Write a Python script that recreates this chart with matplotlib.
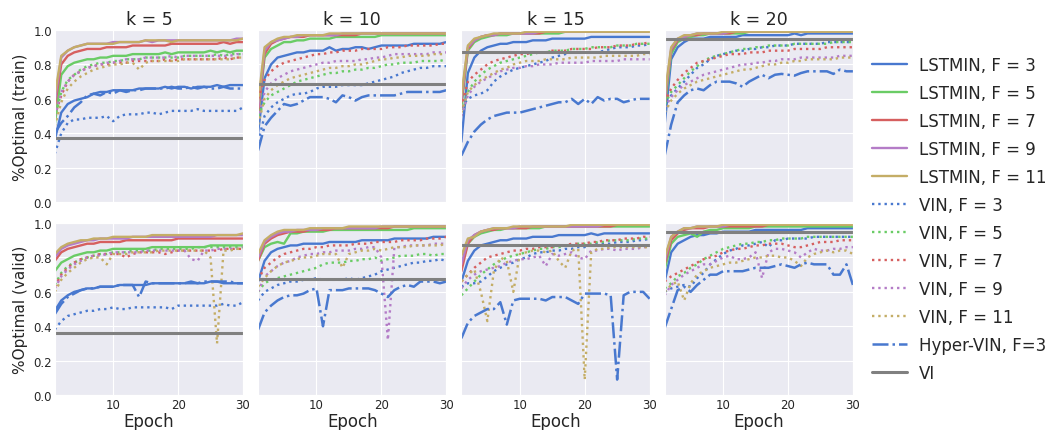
import matplotlib
matplotlib.use("Agg")
import matplotlib.pyplot as plt
import seaborn as sns
import numpy as np

epochs = list(range(1, 31))
ks = [5, 10, 15, 20]
labels = ["LSTMIN, F = 3", "LSTMIN, F = 5", "LSTMIN, F = 7", "LSTMIN, F = 9", "LSTMIN, F = 11",
          "VIN, F = 3", "VIN, F = 5", "VIN, F = 7", "VIN, F = 9", "VIN, F = 11",
          "Hyper-VIN, F=3", "VI"]

# ---------------- train, k = 5 ----------------
tr5_L3 = [0.36,0.52,0.57,0.59,0.60,0.61,0.63,0.64,0.64,0.65,0.65,0.65,0.65,0.66,0.66,0.66,0.66,0.67,0.66,0.67,0.67,0.66,0.67,0.67,0.67,0.68,0.67,0.68,0.68,0.68]
tr5_L5 = [0.45,0.74,0.79,0.81,0.82,0.83,0.83,0.84,0.84,0.85,0.85,0.85,0.86,0.86,0.86,0.86,0.86,0.87,0.86,0.87,0.87,0.87,0.87,0.87,0.88,0.87,0.88,0.87,0.88,0.88]
tr5_L7 = [0.55,0.80,0.85,0.87,0.88,0.89,0.89,0.89,0.90,0.90,0.90,0.90,0.91,0.91,0.91,0.91,0.91,0.91,0.92,0.92,0.92,0.92,0.92,0.92,0.92,0.92,0.93,0.92,0.93,0.93]
tr5_L9 = [0.58,0.84,0.88,0.90,0.91,0.92,0.92,0.92,0.92,0.93,0.93,0.93,0.93,0.93,0.94,0.93,0.94,0.94,0.94,0.94,0.94,0.94,0.94,0.94,0.94,0.94,0.94,0.94,0.95,0.95]
tr5_L11 = [0.62,0.85,0.88,0.90,0.91,0.92,0.92,0.92,0.92,0.92,0.93,0.93,0.93,0.93,0.94,0.94,0.94,0.94,0.93,0.94,0.94,0.94,0.94,0.94,0.94,0.94,0.94,0.94,0.94,0.95]
tr5_V3 = [0.28,0.40,0.46,0.48,0.48,0.49,0.49,0.49,0.50,0.47,0.50,0.51,0.51,0.51,0.52,0.52,0.51,0.52,0.53,0.53,0.53,0.53,0.54,0.53,0.53,0.53,0.53,0.53,0.53,0.55]
tr5_V5 = [0.48,0.64,0.71,0.74,0.77,0.79,0.80,0.81,0.81,0.82,0.82,0.83,0.83,0.83,0.84,0.84,0.84,0.84,0.84,0.84,0.85,0.85,0.85,0.85,0.85,0.86,0.85,0.86,0.86,0.86]
tr5_V7 = [0.50,0.62,0.70,0.74,0.76,0.78,0.79,0.80,0.80,0.81,0.81,0.81,0.82,0.82,0.82,0.82,0.82,0.83,0.82,0.83,0.83,0.83,0.83,0.83,0.83,0.83,0.84,0.83,0.84,0.84]
tr5_V9 = [0.50,0.64,0.70,0.74,0.76,0.78,0.79,0.80,0.81,0.81,0.82,0.83,0.83,0.83,0.84,0.84,0.84,0.84,0.85,0.84,0.85,0.85,0.85,0.85,0.85,0.85,0.85,0.85,0.86,0.86]
tr5_V11 = [0.44,0.58,0.66,0.70,0.73,0.75,0.77,0.78,0.79,0.80,0.80,0.81,0.81,0.77,0.81,0.82,0.82,0.82,0.82,0.82,0.83,0.83,0.83,0.83,0.83,0.83,0.83,0.83,0.84,0.84]
tr5_H3 = [0.40,0.46,0.50,0.55,0.58,0.62,0.63,0.62,0.64,0.63,0.65,0.64,0.65,0.65,0.66,0.66,0.66,0.66,0.67,0.66,0.66,0.67,0.66,0.67,0.66,0.66,0.67,0.66,0.66,0.66]
tr5_VI = 0.37

# ---------------- train, k = 10 ----------------
tr10_L3 = [0.40,0.72,0.80,0.84,0.85,0.86,0.87,0.87,0.88,0.88,0.88,0.90,0.88,0.89,0.89,0.90,0.90,0.89,0.90,0.91,0.91,0.91,0.91,0.91,0.92,0.92,0.92,0.92,0.92,0.93]
tr10_L5 = [0.50,0.84,0.89,0.91,0.93,0.93,0.94,0.94,0.95,0.95,0.95,0.95,0.96,0.96,0.96,0.96,0.96,0.96,0.96,0.97,0.97,0.97,0.97,0.97,0.97,0.97,0.97,0.97,0.97,0.97]
tr10_L7 = [0.52,0.86,0.92,0.94,0.95,0.96,0.96,0.96,0.97,0.97,0.97,0.97,0.97,0.97,0.97,0.97,0.98,0.98,0.98,0.98,0.98,0.98,0.98,0.98,0.98,0.98,0.98,0.98,0.98,0.98]
tr10_L9 = [0.55,0.88,0.93,0.94,0.95,0.96,0.96,0.97,0.97,0.97,0.97,0.97,0.97,0.98,0.98,0.98,0.98,0.98,0.98,0.98,0.98,0.98,0.98,0.98,0.98,0.98,0.98,0.98,0.98,0.98]
tr10_L11 = [0.58,0.90,0.93,0.95,0.96,0.96,0.97,0.97,0.97,0.97,0.97,0.98,0.98,0.98,0.98,0.98,0.98,0.98,0.98,0.98,0.98,0.98,0.98,0.98,0.98,0.98,0.98,0.98,0.98,0.98]
tr10_V3 = [0.35,0.50,0.55,0.58,0.60,0.62,0.63,0.63,0.64,0.66,0.67,0.67,0.67,0.68,0.68,0.68,0.68,0.69,0.70,0.71,0.72,0.73,0.75,0.76,0.77,0.78,0.78,0.79,0.79,0.79]
tr10_V5 = [0.50,0.58,0.62,0.64,0.66,0.68,0.70,0.71,0.72,0.73,0.74,0.75,0.75,0.76,0.76,0.77,0.77,0.78,0.78,0.79,0.80,0.80,0.81,0.81,0.81,0.82,0.82,0.82,0.82,0.83]
tr10_V7 = [0.60,0.71,0.76,0.79,0.81,0.82,0.83,0.84,0.85,0.86,0.86,0.87,0.87,0.88,0.88,0.88,0.89,0.89,0.89,0.89,0.90,0.90,0.90,0.91,0.91,0.91,0.91,0.91,0.92,0.92]
tr10_V9 = [0.48,0.64,0.69,0.72,0.74,0.76,0.77,0.78,0.79,0.80,0.81,0.81,0.82,0.82,0.82,0.82,0.83,0.83,0.84,0.84,0.85,0.86,0.86,0.86,0.86,0.86,0.86,0.87,0.87,0.87]
tr10_V11 = [0.45,0.60,0.65,0.68,0.70,0.72,0.73,0.74,0.75,0.76,0.77,0.78,0.78,0.79,0.79,0.80,0.80,0.81,0.82,0.83,0.83,0.84,0.84,0.85,0.85,0.85,0.85,0.86,0.86,0.86]
tr10_H3 = [0.30,0.44,0.49,0.53,0.57,0.56,0.57,0.59,0.61,0.61,0.61,0.60,0.58,0.62,0.61,0.59,0.61,0.62,0.62,0.62,0.62,0.62,0.63,0.64,0.64,0.64,0.64,0.64,0.64,0.65]
tr10_VI = 0.685

# ---------------- train, k = 15 ----------------
tr15_L3 = [0.35,0.75,0.84,0.88,0.90,0.91,0.92,0.92,0.93,0.93,0.93,0.94,0.94,0.94,0.95,0.95,0.95,0.95,0.95,0.95,0.96,0.96,0.96,0.96,0.96,0.96,0.96,0.96,0.96,0.96]
tr15_L5 = [0.55,0.88,0.93,0.95,0.96,0.97,0.97,0.97,0.98,0.98,0.98,0.98,0.98,0.98,0.98,0.98,0.99,0.99,0.99,0.99,0.99,0.99,0.99,0.99,0.99,0.99,0.99,0.99,0.99,0.99]
tr15_L7 = [0.58,0.89,0.94,0.96,0.97,0.97,0.98,0.98,0.98,0.98,0.98,0.98,0.98,0.99,0.99,0.99,0.99,0.99,0.99,0.99,0.99,0.99,0.99,0.99,0.99,0.99,0.99,0.99,0.99,0.99]
tr15_L9 = [0.60,0.90,0.94,0.96,0.97,0.97,0.98,0.98,0.98,0.98,0.98,0.98,0.99,0.99,0.99,0.99,0.99,0.99,0.99,0.99,0.99,0.99,0.99,0.99,0.99,0.99,0.99,0.99,0.99,0.99]
tr15_L11 = [0.62,0.91,0.95,0.96,0.97,0.98,0.98,0.98,0.98,0.98,0.99,0.99,0.99,0.99,0.99,0.99,0.99,0.99,0.99,0.99,0.99,0.99,0.99,0.99,0.99,0.99,0.99,0.99,0.99,0.99]
tr15_V3 = [0.55,0.60,0.62,0.63,0.65,0.70,0.73,0.75,0.77,0.78,0.79,0.80,0.81,0.82,0.84,0.85,0.86,0.87,0.87,0.87,0.87,0.87,0.88,0.89,0.90,0.90,0.90,0.91,0.91,0.92]
tr15_V5 = [0.50,0.64,0.70,0.74,0.77,0.79,0.81,0.82,0.83,0.84,0.85,0.86,0.87,0.87,0.88,0.88,0.88,0.89,0.89,0.89,0.90,0.90,0.90,0.90,0.91,0.91,0.91,0.92,0.92,0.92]
tr15_V7 = [0.55,0.70,0.74,0.77,0.80,0.82,0.83,0.84,0.85,0.86,0.86,0.87,0.87,0.87,0.88,0.88,0.88,0.89,0.89,0.89,0.89,0.90,0.90,0.90,0.91,0.91,0.91,0.92,0.92,0.93]
tr15_V9 = [0.50,0.62,0.67,0.70,0.72,0.74,0.76,0.77,0.78,0.78,0.79,0.79,0.80,0.80,0.80,0.81,0.81,0.81,0.81,0.81,0.82,0.82,0.82,0.82,0.82,0.83,0.83,0.83,0.83,0.83]
tr15_V11 = [0.52,0.64,0.68,0.71,0.73,0.75,0.77,0.78,0.80,0.81,0.82,0.82,0.82,0.83,0.83,0.83,0.83,0.84,0.84,0.84,0.84,0.84,0.85,0.85,0.85,0.85,0.85,0.85,0.86,0.86]
tr15_H3 = [0.27,0.35,0.41,0.45,0.48,0.50,0.51,0.52,0.52,0.52,0.53,0.54,0.55,0.56,0.57,0.58,0.58,0.60,0.57,0.60,0.57,0.61,0.59,0.60,0.60,0.58,0.59,0.60,0.60,0.60]
tr15_VI = 0.875

# ---------------- train, k = 20 ----------------
tr20_L3 = [0.45,0.83,0.90,0.93,0.95,0.95,0.95,0.96,0.96,0.96,0.96,0.96,0.97,0.97,0.97,0.97,0.97,0.97,0.97,0.97,0.98,0.97,0.98,0.98,0.98,0.98,0.98,0.98,0.98,0.98]
tr20_L5 = [0.55,0.86,0.93,0.95,0.96,0.97,0.97,0.98,0.98,0.98,0.98,0.98,0.98,0.99,0.99,0.99,0.99,0.99,0.99,0.99,0.99,0.99,0.99,0.99,0.99,0.99,0.99,0.99,0.99,0.99]
tr20_L7 = [0.58,0.88,0.94,0.96,0.97,0.97,0.98,0.98,0.98,0.98,0.98,0.99,0.99,0.99,0.99,0.99,0.99,0.99,0.99,0.99,0.99,0.99,0.99,0.99,0.99,0.99,0.99,0.99,0.99,0.99]
tr20_L9 = [0.60,0.89,0.95,0.96,0.97,0.98,0.98,0.98,0.98,0.98,0.99,0.99,0.99,0.99,0.99,0.99,0.99,0.99,0.99,0.99,0.99,0.99,0.99,0.99,0.99,0.99,0.99,0.99,0.99,0.99]
tr20_L11 = [0.62,0.90,0.95,0.97,0.97,0.98,0.98,0.98,0.98,0.99,0.99,0.99,0.99,0.99,0.99,0.99,0.99,0.99,0.99,0.99,0.99,0.99,0.99,0.99,0.99,0.99,0.99,0.99,0.99,0.99]
tr20_V3 = [0.55,0.62,0.66,0.70,0.74,0.78,0.80,0.83,0.85,0.86,0.87,0.88,0.88,0.89,0.89,0.90,0.90,0.91,0.91,0.91,0.92,0.92,0.92,0.92,0.92,0.93,0.93,0.93,0.93,0.93]
tr20_V5 = [0.57,0.64,0.68,0.72,0.76,0.79,0.82,0.84,0.85,0.86,0.87,0.88,0.89,0.89,0.90,0.90,0.91,0.91,0.91,0.91,0.92,0.92,0.92,0.92,0.92,0.92,0.93,0.93,0.93,0.93]
tr20_V7 = [0.58,0.66,0.71,0.75,0.78,0.81,0.82,0.83,0.84,0.85,0.86,0.86,0.86,0.87,0.87,0.87,0.88,0.88,0.88,0.88,0.89,0.89,0.89,0.89,0.89,0.90,0.90,0.90,0.90,0.90]
tr20_V9 = [0.55,0.61,0.65,0.68,0.70,0.72,0.74,0.75,0.76,0.77,0.78,0.79,0.80,0.80,0.81,0.81,0.82,0.82,0.83,0.83,0.83,0.84,0.84,0.84,0.84,0.84,0.84,0.85,0.85,0.85]
tr20_V11 = [0.52,0.59,0.63,0.66,0.68,0.70,0.71,0.72,0.73,0.74,0.75,0.76,0.77,0.77,0.78,0.79,0.80,0.80,0.81,0.81,0.82,0.82,0.83,0.83,0.83,0.83,0.83,0.84,0.84,0.84]
tr20_H3 = [0.27,0.45,0.58,0.62,0.65,0.66,0.65,0.68,0.70,0.70,0.70,0.69,0.67,0.70,0.72,0.74,0.72,0.74,0.745,0.74,0.735,0.75,0.76,0.76,0.76,0.76,0.745,0.77,0.76,0.76]
tr20_VI = 0.945

# ---------------- valid, k = 5 ----------------
va5_L3 = [0.49,0.55,0.58,0.60,0.61,0.62,0.62,0.63,0.63,0.63,0.64,0.64,0.64,0.64,0.64,0.65,0.65,0.65,0.65,0.65,0.65,0.65,0.65,0.65,0.66,0.66,0.65,0.65,0.65,0.65]
va5_L5 = [0.72,0.77,0.79,0.81,0.82,0.83,0.83,0.84,0.84,0.85,0.85,0.85,0.85,0.85,0.85,0.86,0.86,0.86,0.86,0.86,0.86,0.86,0.86,0.86,0.87,0.87,0.87,0.87,0.87,0.87]
va5_L7 = [0.78,0.83,0.85,0.86,0.87,0.88,0.88,0.89,0.89,0.89,0.89,0.90,0.90,0.90,0.90,0.90,0.90,0.90,0.90,0.91,0.91,0.91,0.91,0.91,0.91,0.91,0.91,0.91,0.91,0.91]
va5_L9 = [0.80,0.85,0.87,0.88,0.89,0.90,0.90,0.91,0.91,0.91,0.91,0.91,0.92,0.92,0.92,0.92,0.92,0.92,0.92,0.92,0.92,0.92,0.92,0.92,0.92,0.93,0.93,0.93,0.93,0.93]
va5_L11 = [0.82,0.86,0.88,0.89,0.90,0.90,0.91,0.91,0.91,0.92,0.92,0.92,0.92,0.92,0.92,0.93,0.93,0.93,0.93,0.93,0.93,0.93,0.93,0.93,0.93,0.93,0.93,0.93,0.93,0.94]
va5_V3 = [0.38,0.43,0.46,0.47,0.48,0.49,0.49,0.50,0.50,0.51,0.50,0.50,0.51,0.51,0.51,0.51,0.51,0.51,0.50,0.52,0.52,0.52,0.52,0.52,0.52,0.52,0.53,0.52,0.52,0.54]
va5_V5 = [0.64,0.71,0.75,0.77,0.79,0.80,0.81,0.82,0.82,0.83,0.83,0.83,0.84,0.84,0.84,0.84,0.85,0.85,0.85,0.85,0.85,0.85,0.86,0.86,0.86,0.86,0.86,0.86,0.86,0.86]
va5_V7 = [0.63,0.70,0.74,0.77,0.79,0.80,0.81,0.82,0.82,0.82,0.82,0.80,0.82,0.83,0.83,0.83,0.83,0.82,0.83,0.84,0.84,0.84,0.84,0.84,0.84,0.84,0.85,0.85,0.85,0.85]
va5_V9 = [0.62,0.69,0.73,0.76,0.78,0.80,0.81,0.81,0.82,0.83,0.83,0.83,0.83,0.83,0.84,0.84,0.84,0.84,0.84,0.84,0.84,0.79,0.78,0.84,0.84,0.85,0.85,0.85,0.85,0.86]
va5_V11 = [0.60,0.67,0.71,0.74,0.77,0.79,0.80,0.80,0.76,0.82,0.82,0.82,0.83,0.83,0.83,0.83,0.84,0.84,0.84,0.84,0.84,0.84,0.84,0.84,0.80,0.30,0.84,0.84,0.85,0.85]
va5_H3 = [0.47,0.53,0.57,0.59,0.61,0.62,0.62,0.63,0.63,0.63,0.64,0.64,0.64,0.57,0.66,0.65,0.65,0.65,0.65,0.65,0.65,0.66,0.65,0.66,0.66,0.66,0.66,0.66,0.65,0.65]
va5_VI = 0.36

# ---------------- valid, k = 10 ----------------
va10_L3 = [0.66,0.78,0.83,0.85,0.86,0.87,0.87,0.88,0.88,0.88,0.88,0.89,0.89,0.89,0.89,0.89,0.90,0.90,0.90,0.90,0.90,0.91,0.91,0.91,0.91,0.91,0.91,0.92,0.92,0.92]
va10_L5 = [0.78,0.86,0.88,0.89,0.88,0.94,0.94,0.95,0.95,0.95,0.95,0.96,0.96,0.96,0.96,0.96,0.96,0.96,0.96,0.96,0.96,0.96,0.96,0.96,0.97,0.97,0.97,0.97,0.97,0.97]
va10_L7 = [0.78,0.88,0.91,0.93,0.94,0.95,0.95,0.95,0.96,0.96,0.96,0.96,0.97,0.97,0.97,0.97,0.97,0.97,0.97,0.97,0.97,0.98,0.98,0.98,0.98,0.98,0.98,0.98,0.98,0.98]
va10_L9 = [0.80,0.89,0.92,0.94,0.95,0.95,0.96,0.96,0.96,0.96,0.97,0.97,0.97,0.97,0.97,0.97,0.97,0.97,0.97,0.98,0.98,0.98,0.98,0.98,0.98,0.98,0.98,0.98,0.98,0.98]
va10_L11 = [0.82,0.90,0.93,0.95,0.96,0.96,0.96,0.96,0.97,0.97,0.97,0.97,0.97,0.97,0.98,0.98,0.98,0.98,0.98,0.98,0.98,0.98,0.98,0.98,0.98,0.98,0.98,0.98,0.98,0.98]
va10_V3 = [0.55,0.60,0.62,0.64,0.65,0.66,0.66,0.67,0.67,0.68,0.67,0.67,0.67,0.67,0.68,0.67,0.68,0.69,0.70,0.72,0.73,0.74,0.75,0.76,0.77,0.77,0.78,0.78,0.79,0.78]
va10_V5 = [0.60,0.65,0.67,0.68,0.69,0.70,0.71,0.72,0.73,0.74,0.76,0.77,0.77,0.77,0.78,0.78,0.79,0.79,0.80,0.78,0.79,0.80,0.81,0.81,0.81,0.82,0.82,0.81,0.82,0.82]
va10_V7 = [0.67,0.74,0.77,0.80,0.82,0.83,0.84,0.85,0.85,0.86,0.86,0.87,0.87,0.87,0.87,0.88,0.88,0.88,0.89,0.89,0.89,0.89,0.90,0.90,0.90,0.90,0.91,0.91,0.91,0.92]
va10_V9 = [0.60,0.69,0.72,0.75,0.77,0.78,0.80,0.81,0.82,0.82,0.83,0.83,0.84,0.84,0.84,0.85,0.85,0.86,0.86,0.80,0.32,0.86,0.86,0.87,0.87,0.87,0.87,0.88,0.88,0.88]
va10_V11 = [0.63,0.68,0.72,0.75,0.77,0.78,0.79,0.80,0.80,0.81,0.82,0.82,0.82,0.74,0.82,0.83,0.84,0.84,0.85,0.84,0.85,0.86,0.86,0.86,0.87,0.87,0.87,0.87,0.87,0.88]
va10_H3 = [0.38,0.48,0.52,0.55,0.57,0.58,0.58,0.59,0.61,0.62,0.40,0.61,0.61,0.61,0.62,0.62,0.62,0.62,0.61,0.59,0.57,0.61,0.63,0.64,0.63,0.66,0.66,0.66,0.65,0.66]
va10_VI = 0.673

# ---------------- valid, k = 15 ----------------
va15_L3 = [0.66,0.78,0.84,0.87,0.88,0.89,0.90,0.90,0.91,0.91,0.91,0.92,0.92,0.92,0.92,0.93,0.93,0.93,0.93,0.93,0.94,0.93,0.94,0.94,0.94,0.94,0.94,0.94,0.94,0.94]
va15_L5 = [0.75,0.88,0.92,0.94,0.95,0.96,0.96,0.97,0.97,0.97,0.97,0.97,0.97,0.98,0.98,0.98,0.98,0.98,0.98,0.98,0.98,0.98,0.98,0.98,0.98,0.98,0.98,0.98,0.98,0.98]
va15_L7 = [0.72,0.88,0.93,0.95,0.96,0.96,0.97,0.97,0.97,0.97,0.97,0.98,0.98,0.98,0.98,0.98,0.98,0.98,0.98,0.98,0.98,0.98,0.98,0.98,0.99,0.99,0.99,0.99,0.99,0.99]
va15_L9 = [0.76,0.90,0.93,0.95,0.96,0.97,0.97,0.97,0.97,0.98,0.98,0.98,0.98,0.98,0.98,0.98,0.98,0.98,0.98,0.98,0.98,0.98,0.99,0.99,0.99,0.99,0.99,0.99,0.99,0.99]
va15_L11 = [0.81,0.91,0.92,0.95,0.96,0.97,0.97,0.97,0.98,0.98,0.98,0.98,0.98,0.98,0.98,0.98,0.98,0.99,0.99,0.99,0.99,0.99,0.99,0.99,0.99,0.99,0.99,0.99,0.99,0.99]
va15_V3 = [0.63,0.65,0.65,0.66,0.69,0.72,0.74,0.76,0.77,0.79,0.80,0.82,0.83,0.83,0.84,0.84,0.85,0.85,0.86,0.86,0.87,0.88,0.88,0.88,0.89,0.89,0.89,0.90,0.90,0.91]
va15_V5 = [0.58,0.62,0.66,0.70,0.73,0.76,0.78,0.80,0.81,0.82,0.83,0.84,0.85,0.85,0.86,0.86,0.87,0.87,0.88,0.88,0.88,0.89,0.89,0.90,0.90,0.90,0.90,0.91,0.91,0.91]
va15_V7 = [0.66,0.70,0.74,0.77,0.80,0.81,0.82,0.83,0.84,0.84,0.85,0.85,0.86,0.86,0.86,0.87,0.87,0.88,0.88,0.88,0.89,0.89,0.90,0.90,0.90,0.91,0.91,0.91,0.92,0.92]
va15_V9 = [0.62,0.67,0.70,0.72,0.73,0.74,0.75,0.77,0.78,0.79,0.79,0.80,0.81,0.75,0.82,0.81,0.82,0.83,0.80,0.79,0.84,0.84,0.85,0.85,0.84,0.85,0.85,0.85,0.86,0.86]
va15_V11 = [0.66,0.70,0.73,0.60,0.43,0.72,0.80,0.78,0.60,0.82,0.83,0.84,0.84,0.83,0.84,0.78,0.74,0.84,0.85,0.09,0.83,0.85,0.85,0.86,0.86,0.86,0.86,0.86,0.86,0.86]
va15_H3 = [0.33,0.42,0.46,0.48,0.50,0.50,0.54,0.41,0.55,0.56,0.56,0.56,0.56,0.55,0.57,0.57,0.57,0.55,0.53,0.59,0.59,0.59,0.59,0.58,0.09,0.58,0.60,0.60,0.60,0.56]
va15_VI = 0.874

# ---------------- valid, k = 20 ----------------
va20_L3 = [0.66,0.83,0.88,0.90,0.92,0.93,0.93,0.94,0.94,0.95,0.95,0.95,0.95,0.95,0.96,0.96,0.96,0.96,0.96,0.96,0.96,0.96,0.97,0.97,0.97,0.97,0.97,0.97,0.97,0.97]
va20_L5 = [0.73,0.88,0.92,0.93,0.94,0.92,0.95,0.96,0.96,0.97,0.97,0.97,0.97,0.97,0.98,0.98,0.98,0.98,0.98,0.98,0.98,0.98,0.98,0.98,0.98,0.98,0.98,0.98,0.98,0.98]
va20_L7 = [0.76,0.90,0.94,0.96,0.97,0.97,0.97,0.98,0.98,0.98,0.98,0.98,0.98,0.98,0.98,0.98,0.99,0.99,0.99,0.99,0.99,0.99,0.99,0.99,0.99,0.99,0.99,0.99,0.99,0.99]
va20_L9 = [0.78,0.92,0.95,0.97,0.97,0.98,0.98,0.98,0.98,0.98,0.99,0.99,0.99,0.99,0.99,0.99,0.99,0.99,0.99,0.99,0.99,0.99,0.99,0.99,0.99,0.99,0.99,0.99,0.99,0.99]
va20_L11 = [0.80,0.92,0.95,0.97,0.97,0.98,0.98,0.98,0.98,0.99,0.99,0.99,0.99,0.99,0.99,0.99,0.99,0.99,0.99,0.99,0.99,0.99,0.99,0.99,0.99,0.99,0.99,0.99,0.99,0.99]
va20_V3 = [0.60,0.62,0.63,0.64,0.63,0.68,0.71,0.76,0.79,0.82,0.84,0.85,0.87,0.87,0.88,0.89,0.86,0.90,0.90,0.91,0.91,0.91,0.91,0.92,0.92,0.92,0.92,0.92,0.92,0.92]
va20_V5 = [0.62,0.65,0.69,0.71,0.74,0.76,0.79,0.81,0.83,0.85,0.86,0.87,0.88,0.88,0.89,0.89,0.90,0.90,0.91,0.91,0.91,0.91,0.92,0.92,0.92,0.92,0.92,0.92,0.92,0.92]
va20_V7 = [0.66,0.69,0.71,0.73,0.75,0.77,0.79,0.80,0.81,0.83,0.84,0.85,0.85,0.86,0.87,0.87,0.88,0.88,0.88,0.87,0.86,0.86,0.87,0.88,0.89,0.89,0.89,0.90,0.90,0.90]
va20_V9 = [0.58,0.64,0.67,0.70,0.72,0.74,0.76,0.76,0.78,0.80,0.81,0.79,0.79,0.80,0.83,0.68,0.83,0.85,0.85,0.84,0.83,0.80,0.83,0.85,0.84,0.84,0.85,0.85,0.86,0.86]
va20_V11 = [0.60,0.64,0.66,0.55,0.65,0.70,0.72,0.74,0.75,0.76,0.77,0.77,0.78,0.79,0.80,0.80,0.81,0.81,0.80,0.80,0.78,0.75,0.80,0.82,0.83,0.84,0.83,0.84,0.84,0.82]
va20_H3 = [0.39,0.50,0.61,0.63,0.60,0.64,0.67,0.70,0.70,0.72,0.72,0.72,0.72,0.73,0.74,0.74,0.74,0.75,0.76,0.75,0.74,0.76,0.77,0.76,0.76,0.76,0.70,0.70,0.76,0.64]
va20_VI = 0.946

train_series = [
    [tr5_L3, tr5_L5, tr5_L7, tr5_L9, tr5_L11, tr5_V3, tr5_V5, tr5_V7, tr5_V9, tr5_V11, tr5_H3, tr5_VI],
    [tr10_L3, tr10_L5, tr10_L7, tr10_L9, tr10_L11, tr10_V3, tr10_V5, tr10_V7, tr10_V9, tr10_V11, tr10_H3, tr10_VI],
    [tr15_L3, tr15_L5, tr15_L7, tr15_L9, tr15_L11, tr15_V3, tr15_V5, tr15_V7, tr15_V9, tr15_V11, tr15_H3, tr15_VI],
    [tr20_L3, tr20_L5, tr20_L7, tr20_L9, tr20_L11, tr20_V3, tr20_V5, tr20_V7, tr20_V9, tr20_V11, tr20_H3, tr20_VI],
]
valid_series = [
    [va5_L3, va5_L5, va5_L7, va5_L9, va5_L11, va5_V3, va5_V5, va5_V7, va5_V9, va5_V11, va5_H3, va5_VI],
    [va10_L3, va10_L5, va10_L7, va10_L9, va10_L11, va10_V3, va10_V5, va10_V7, va10_V9, va10_V11, va10_H3, va10_VI],
    [va15_L3, va15_L5, va15_L7, va15_L9, va15_L11, va15_V3, va15_V5, va15_V7, va15_V9, va15_V11, va15_H3, va15_VI],
    [va20_L3, va20_L5, va20_L7, va20_L9, va20_L11, va20_V3, va20_V5, va20_V7, va20_V9, va20_V11, va20_H3, va20_VI],
]

sns.set_style("darkgrid")
plt.rcParams['font.family'] = ['DejaVu Sans']

pal = ["#4878CF", "#6ACC65", "#D65F5F", "#B47CC7", "#C4AD66"]
gray = "#808080"
colors = pal + pal + ["#4878CF", gray]
styles = ["-"] * 5 + [":"] * 5 + ["-."] + ["-"]
widths = [1.7] * 5 + [1.7] * 5 + [1.8] + [2.2]

fig, axes = plt.subplots(2, 4, figsize=(10.53, 4.31), dpi=100, sharex=True, sharey=True)
fig.subplots_adjust(left=0.052, right=0.81, top=0.928, bottom=0.081, wspace=0.08, hspace=0.122)

for row, (data, ylab) in enumerate([(train_series, "%Optimal (train)"), (valid_series, "%Optimal (valid)")]):
    for col in range(4):
        ax = axes[row, col]
        for i, s in enumerate(data[col]):
            if i == 11:
                ax.axhline(s, color=colors[i], ls=styles[i], lw=widths[i], label=labels[i])
            else:
                ax.plot(epochs, s, color=colors[i], ls=styles[i], lw=widths[i], label=labels[i])
        ax.set_xlim(1, 30)
        ax.set_ylim(0, 1.0)
        ax.set_xticks([10, 20, 30])
        ax.set_yticks([0.0, 0.2, 0.4, 0.6, 0.8, 1.0])
        ax.tick_params(labelsize=8.5, length=0, pad=2)
        if row == 0:
            ax.set_title("k = %d" % ks[col], fontsize=12.5, pad=4)
        else:
            ax.set_xlabel("Epoch", fontsize=12, labelpad=0.5)
        if col == 0:
            ax.set_ylabel(ylab, fontsize=11, labelpad=4)

handles, labs = axes[0, 0].get_legend_handles_labels()
fig.legend(handles, labs, loc="center left", bbox_to_anchor=(0.822, 0.49), frameon=False,
           fontsize=12, handlelength=2.1, handletextpad=0.7, labelspacing=0.6, borderaxespad=0)

fig.savefig("out.png", dpi=100)
